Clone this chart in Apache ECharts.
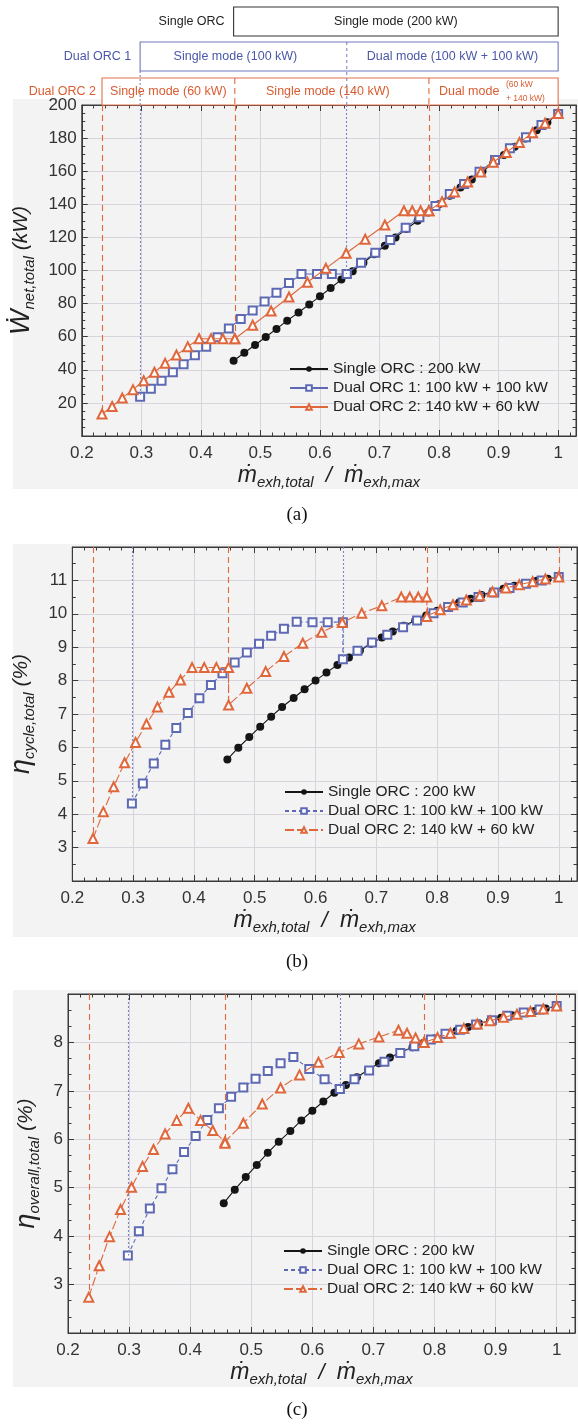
<!DOCTYPE html>
<html><head><meta charset="utf-8">
<script src="https://cdn.jsdelivr.net/npm/echarts@6/dist/echarts.min.js"></script>
<style>html,body{margin:0;padding:0;background:#fff}#c{width:578px;height:1427px}</style>
</head><body><div id="c"></div>
<script>
// ---------- data ----------
const xSingle = [0.455,0.473,0.491,0.509,0.527,0.545,0.564,0.582,0.600,0.618,0.636,0.655,0.673,0.691,0.709,0.727,0.745,0.764,0.782,0.800,0.818,0.836,0.855,0.873,0.891,0.909,0.927,0.945,0.964,0.982,1.000];
const xDual1 = [0.298,0.316,0.334,0.353,0.371,0.390,0.409,0.428,0.447,0.467,0.487,0.507,0.527,0.548,0.569,0.595,0.620,0.645,0.645,0.669,0.693,0.718,0.744,0.767,0.794,0.818,0.842,0.868,0.894,0.919,0.946,0.972,1.000];
const xDual2 = [0.234,0.251,0.268,0.286,0.304,0.322,0.340,0.359,0.378,0.397,0.417,0.437,0.457,0.457,0.487,0.518,0.548,0.579,0.610,0.644,0.676,0.709,0.741,0.755,0.769,0.783,0.783,0.805,0.826,0.848,0.870,0.891,0.913,0.935,0.957,0.978,1.000];

// (a) net power, kW
const aSingle = [45.5,50.3,55.0,59.8,64.7,69.7,74.6,79.5,84.4,89.4,94.5,99.6,104.7,109.8,114.9,120.0,125.1,130.1,135.1,140.1,145.1,150.1,155.0,159.9,164.8,169.8,174.8,179.8,184.7,189.6,194.6];
const aDual1 = [23.7,28.6,33.4,38.5,43.3,48.8,54.0,59.6,65.0,70.7,75.9,81.2,86.6,92.4,97.9,97.9,97.9,97.9,97.9,104.7,110.8,118.4,125.9,132.1,139.0,146.2,152.3,159.7,166.8,173.8,180.5,187.9,194.6];
const aDual2 = [13.3,17.8,23.0,28.0,33.4,38.5,43.9,48.9,54.0,58.8,58.8,58.8,58.8,58.8,66.9,75.5,84.0,92.9,101.3,110.4,118.9,127.5,136.1,136.1,136.1,136.1,136.1,141.6,147.5,153.5,159.5,165.4,171.3,177.3,183.2,189.0,194.8];

// (b) cycle efficiency, %
const bSingle = [5.64,5.99,6.31,6.62,6.92,7.21,7.48,7.74,8.00,8.24,8.47,8.69,8.90,9.10,9.29,9.47,9.64,9.80,9.95,10.09,10.22,10.34,10.45,10.56,10.66,10.75,10.84,10.92,10.99,11.05,11.10];
const bDual1 = [4.32,4.92,5.52,6.08,6.58,7.03,7.47,7.87,8.22,8.54,8.84,9.10,9.34,9.55,9.76,9.75,9.75,9.75,8.64,8.89,9.14,9.37,9.60,9.80,10.02,10.20,10.34,10.50,10.64,10.77,10.90,11.00,11.10];
const bDual2 = [3.27,4.07,4.82,5.54,6.15,6.70,7.21,7.65,8.02,8.39,8.39,8.39,8.39,7.27,7.77,8.27,8.72,9.12,9.45,9.74,10.02,10.24,10.50,10.50,10.50,10.50,9.92,10.12,10.27,10.41,10.54,10.66,10.77,10.87,10.96,11.04,11.10];

// (c) overall efficiency, %
const cSingle = [4.68,4.96,5.22,5.47,5.72,5.95,6.17,6.39,6.59,6.78,6.96,7.12,7.28,7.43,7.57,7.69,7.80,7.90,7.99,8.08,8.16,8.24,8.32,8.39,8.45,8.51,8.56,8.61,8.65,8.70,8.75];
const cDual1 = [3.60,4.10,4.57,4.99,5.38,5.74,6.07,6.40,6.64,6.88,7.07,7.25,7.41,7.57,7.70,7.45,7.24,7.04,7.04,7.24,7.42,7.60,7.78,7.92,8.06,8.18,8.26,8.37,8.46,8.55,8.62,8.68,8.75];
const cDual2 = [2.74,3.39,3.99,4.55,5.01,5.44,5.79,6.11,6.39,6.64,6.39,6.18,5.95,5.92,6.33,6.73,7.06,7.33,7.59,7.79,7.97,8.11,8.25,8.19,8.09,8.00,8.00,8.10,8.19,8.29,8.38,8.45,8.52,8.58,8.64,8.69,8.75];

const seriesLabels = ['Single ORC : 200 kW','Dual ORC 1: 100 kW + 100 kW','Dual ORC 2: 140 kW + 60 kW'];
const xAxisRange = {min:0.2, max:1.03, interval:0.1, minor:0.02};
const yRanges = [{min:0,max:200,interval:20,minorSplit:4},{min:2,max:12,interval:1,minorSplit:2},{min:2,max:9,interval:1,minorSplit:3}];
const yNames = ['{b|Ẇ}{s|net,total}{u| (kW)}','{b|η}{s|cycle,total}{u| (%)}','{b|η}{s|overall,total}{u| (%)}'];
const xName = '{m|ṁ}{s|exh,total}{u|  /  }{m|ṁ}{s|exh,max}';
const headerText = {
  single:'Single ORC', dual1:'Dual ORC 1', dual2:'Dual ORC 2',
  s200:'Single mode (200 kW)', s100:'Single mode (100 kW)', d100:'Dual mode (100 kW + 100 kW)',
  s60:'Single mode (60 kW)', s140:'Single mode (140 kW)', d60:'Dual mode', d60a:'(60 kW', d60b:'+ 140 kW)'
};
const captions = ['(a)','(b)','(c)'];

// ---------- layout / style ----------
const FONT = 'Liberation Sans, Arial, sans-serif';
const panels = [
  {left:81, top:105, width:495, height:331, yGap:34, legendLeft:289, legendTop:361, bg:[13,99,565,390], cap:515},
  {left:70, top:547, width:507, height:334, yGap:24, legendLeft:284, legendTop:784, bg:[13,544,565,393], cap:962},
  {left:68, top:994, width:507, height:339, yGap:25, legendLeft:283, legendTop:1243, bg:[13,990,565,397], cap:1410}
];
const BLACK='#151515', BLUE='#5e69b4', ORANGE='#e0673c', BLUEV='#7d87c6', ORANGEV='#e2683b';
const AX='#3a3a3a', GRID='#d9d3db';

const grids=[], xAxes=[], yAxes=[], series=[], legends=[];
const richY = {
  b:{fontSize:27,fontStyle:'italic',fontFamily:FONT,color:'#222',verticalAlign:'middle',lineHeight:32},
  s:{fontSize:15,fontStyle:'italic',fontFamily:FONT,color:'#222',verticalAlign:'bottom',lineHeight:22},
  u:{fontSize:21,fontStyle:'italic',fontFamily:FONT,color:'#222',verticalAlign:'middle',lineHeight:32}
};
const richX = {
  m:{fontSize:23,fontStyle:'italic',fontFamily:FONT,color:'#222',verticalAlign:'middle',lineHeight:28},
  s:{fontSize:15,fontStyle:'italic',fontFamily:FONT,color:'#222',verticalAlign:'bottom',lineHeight:20},
  u:{fontSize:22,fontStyle:'italic',fontFamily:FONT,color:'#222',verticalAlign:'middle',lineHeight:28}
};
const allY = [[aSingle,aDual1,aDual2],[bSingle,bDual1,bDual2],[cSingle,cDual1,cDual2]];

panels.forEach((p,i)=>{
  const yr = yRanges[i];
  grids.push({left:p.left, top:p.top, width:p.width, height:p.height, show:true, borderColor:AX, borderWidth:1, backgroundColor:'transparent'});
  const xBase = {gridIndex:i, type:'value', min:xAxisRange.min, max:xAxisRange.max, axisLine:{show:true,onZero:false,lineStyle:{color:AX}}};
  xAxes.push(Object.assign({}, xBase, {position:'bottom', interval:xAxisRange.interval,
    axisTick:{inside:true,length:6,lineStyle:{color:AX}},
    axisLabel:{showMaxLabel:false, fontSize:17, color:'#333', fontFamily:FONT, margin:9},
    splitLine:{show:true,lineStyle:{color:GRID,width:1}},
    name:xName, nameLocation:'middle', nameGap:26, nameTextStyle:{rich:richX}}));
  xAxes.push(Object.assign({}, xBase, {position:'bottom', interval:xAxisRange.minor, axisLine:{show:false,onZero:false},
    axisTick:{inside:true,length:3.5,lineStyle:{color:AX}}, axisLabel:{show:false}, splitLine:{show:false}}));
  xAxes.push(Object.assign({}, xBase, {position:'top', interval:xAxisRange.interval,
    axisTick:{inside:true,length:6,lineStyle:{color:AX}}, axisLabel:{show:false}, splitLine:{show:false}}));
  xAxes.push(Object.assign({}, xBase, {position:'top', interval:xAxisRange.minor, axisLine:{show:false,onZero:false},
    axisTick:{inside:true,length:3.5,lineStyle:{color:AX}}, axisLabel:{show:false}, splitLine:{show:false}}));
  const yBase = {gridIndex:i, type:'value', min:yr.min, max:yr.max, interval:yr.interval,
    axisLine:{show:true,onZero:false,lineStyle:{color:AX}},
    axisTick:{inside:true,length:6,lineStyle:{color:AX}},
    minorTick:{show:true,splitNumber:yr.minorSplit,length:3.5,lineStyle:{color:AX}}};
  yAxes.push(Object.assign({}, yBase, {position:'left',
    axisLabel:{showMinLabel:false, showMaxLabel:i===0, fontSize:17, color:'#333', fontFamily:FONT, margin:5},
    splitLine:{show:true,lineStyle:{color:GRID,width:1}},
    name:yNames[i], nameLocation:'middle', nameGap:p.yGap, nameTextStyle:{rich:richY}}));
  yAxes.push(Object.assign({}, yBase, {position:'right', axisLabel:{show:false}, splitLine:{show:false}}));

  const [ys, yd1, yd2] = allY[i];
  const top = yr.max;
  const dashB = i===0 ? 'solid' : [4,3];
  const dashO = i===0 ? 'solid' : [9,3];
  series.push({type:'line', name:'p'+i+'_0', xAxisIndex:4*i, yAxisIndex:2*i,
    data:xSingle.map((x,k)=>[x,ys[k]]), symbol:'circle', symbolSize:8,
    itemStyle:{color:BLACK}, lineStyle:{color:BLACK,width:1.1}, z:3});
  series.push({type:'line', name:'p'+i+'_1', xAxisIndex:4*i, yAxisIndex:2*i,
    data:xDual1.map((x,k)=>[x,yd1[k]]), symbol:'emptyRect', symbolSize:8,
    itemStyle:{color:BLUE,borderWidth:1.1}, lineStyle:{color:BLUE,width:1.1,type:dashB}, z:4,
    markLine:{silent:true, symbol:['none','none'], label:{show:false}, animation:false,
      lineStyle:{color:BLUEV,width:1.1,type:[2,2]},
      data:[[{coord:[xDual1[0],top]},{coord:[xDual1[0],yd1[0]]}],
            [{coord:[xDual1[18],top]},{coord:[xDual1[18],yd1[18]]}]]}});
  series.push({type:'line', name:'p'+i+'_2', xAxisIndex:4*i, yAxisIndex:2*i,
    data:xDual2.map((x,k)=>[x,yd2[k]]), symbol:'emptyTriangle', symbolSize:9,
    itemStyle:{color:ORANGE,borderWidth:1.1}, lineStyle:{color:ORANGE,width:1.1,type:dashO}, z:5,
    markLine:{silent:true, symbol:['none','none'], label:{show:false}, animation:false,
      lineStyle:{color:ORANGEV,width:1.1,type:[6,4]},
      data:[[{coord:[xDual2[0],top]},{coord:[xDual2[0],yd2[0]]}],
            [{coord:[xDual2[13],top]},{coord:[xDual2[13],yd2[13]]}],
            [{coord:[xDual2[26],top]},{coord:[xDual2[26],yd2[26]]}],
            [{coord:[xDual2[36],top]},{coord:[xDual2[36],yd2[36]]}]]}});
  legends.push({data:['p'+i+'_0','p'+i+'_1','p'+i+'_2'], left:p.legendLeft, top:p.legendTop, orient:'vertical',
    padding:0, itemWidth:38, itemHeight:7, itemGap:3, selectedMode:false,
    textStyle:{fontSize:15.5, color:'#222', fontFamily:FONT},
    formatter:n=>seriesLabels[+n.split('_')[1]]});
});

const chart = echarts.init(document.getElementById('c'));
chart.setOption({animation:false, backgroundColor:'#fff', grid:grids, xAxis:xAxes, yAxis:yAxes, series, legend:legends});

// ---------- annotations positioned from the data scale ----------
const px = v => chart.convertToPixel({xAxisIndex:0}, v);
const g = [];
panels.forEach((p,i)=>{
  g.push({type:'rect', z:-10, silent:true, shape:{x:p.bg[0],y:p.bg[1],width:p.bg[2],height:p.bg[3]}, style:{fill:'#f3f3f3'}});
  g.push({type:'text', z:10, style:{text:captions[i], x:297, y:p.cap, align:'center', verticalAlign:'middle',
    fontFamily:'Liberation Serif, Times New Roman, serif', fontSize:19, fill:'#111'}});
});
const pTop = panels[0].top;
const rows = [[7,36],[42,71],[78,pTop]];
function box(x1,x2,r,col){ g.push({type:'rect', z:5, shape:{x:x1,y:r[0],width:x2-x1,height:r[1]-r[0]}, style:{fill:'#fff',stroke:col,lineWidth:1.1}}); }
function vline(x,y1,y2,col,dash){ g.push({type:'line', z:6, shape:{x1:x,y1:y1,x2:x,y2:y2}, style:{stroke:col,lineWidth:1.1,lineDash:dash}}); }
function txt(t,x,y,col,align,size){ g.push({type:'text', z:8, style:{text:t,x:x,y:y,align:align||'center',verticalAlign:'middle',fontFamily:FONT,fontSize:size||12.5,fill:col}}); }
const s0=px(xSingle[0]), s1=px(xSingle[xSingle.length-1]);
const d10=px(xDual1[0]), d1m=px(xDual1[18]), d11=px(xDual1[xDual1.length-1]);
const d20=px(xDual2[0]), d2a=px(xDual2[13]), d2b=px(xDual2[26]), d21=px(xDual2[xDual2.length-1]);
const TXT='#222', TB='#4b57a8', TO='#d95c31';
box(s0,s1,rows[0],'#333');
box(d10,d11,rows[1],'#6f79c0');
box(d20,d21,rows[2],'#e2714a');
vline(d10,rows[1][1],pTop,BLUEV,[2,2]);
vline(d1m,rows[1][0],pTop,BLUEV,[3,3]);
vline(d2a,rows[2][0],pTop,ORANGEV,[6,4]);
vline(d2b,rows[2][0],pTop,ORANGEV,[6,4]);
txt(headerText.single, s0-9, (rows[0][0]+rows[0][1])/2, TXT, 'right');
txt(headerText.s200, (s0+s1)/2, (rows[0][0]+rows[0][1])/2, TXT);
txt(headerText.dual1, d10-9, (rows[1][0]+rows[1][1])/2, TB, 'right');
txt(headerText.s100, (d10+d1m)/2-8, (rows[1][0]+rows[1][1])/2, TB);
txt(headerText.d100, (d1m+d11)/2, (rows[1][0]+rows[1][1])/2, TB);
const r3 = (rows[2][0]+rows[2][1])/2;
txt(headerText.dual2, d20-6, r3, TO, 'right');
txt(headerText.s60, (d20+d2a)/2, r3, TO);
txt(headerText.s140, (d2a+d2b)/2-4, r3, TO);
txt(headerText.d60, d2b+10, r3, TO, 'left');
txt(headerText.d60a, d2b+77, r3-6.5, TO, 'left', 8.5);
txt(headerText.d60b, d2b+77, r3+7, TO, 'left', 8.5);
chart.setOption({graphic:g});
</script></body></html>
